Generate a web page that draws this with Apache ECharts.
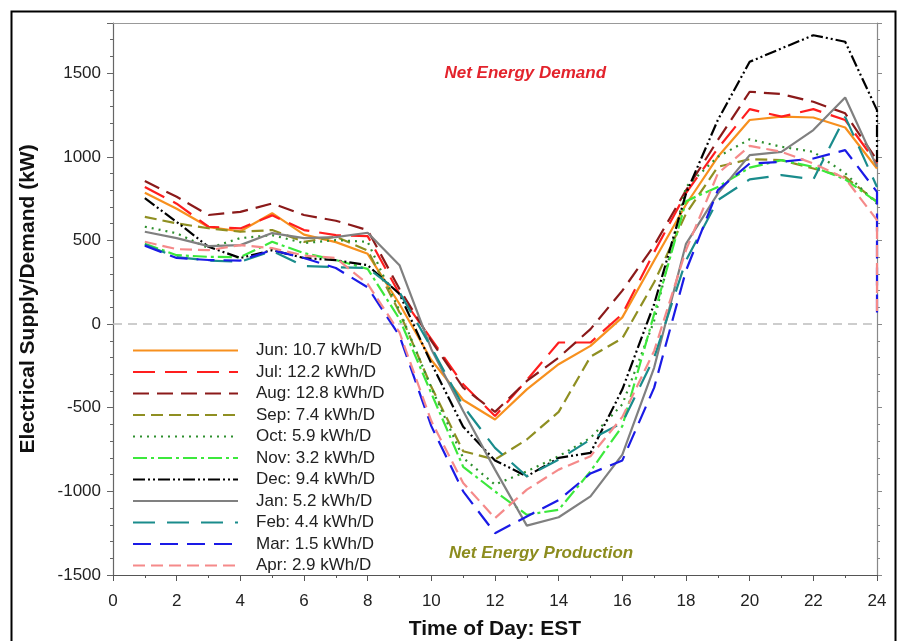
<!DOCTYPE html>
<html><head><meta charset="utf-8">
<script src="https://cdn.jsdelivr.net/npm/echarts@6/dist/echarts.min.js"></script>
<style>html,body{margin:0;padding:0;background:#fff}#c{width:902px;height:641px}</style>
</head><body><div id="c"></div>
<script>
const hours = [1,2,3,4,5,6,7,8,9,10,11,12,13,14,15,16,17,18,19,20,21,22,23,24];
const seriesNames = ['Jun: 10.7 kWh/D','Jul: 12.2 kWh/D','Aug: 12.8 kWh/D','Sep: 7.4 kWh/D','Oct: 5.9 kWh/D','Nov: 3.2 kWh/D','Dec: 9.4 kWh/D','Jan: 5.2 kWh/D','Feb: 4.4 kWh/D','Mar: 1.5 kWh/D','Apr: 2.9 kWh/D'];
const jun = [785,690,580,555,663,535,490,420,120,-215,-454,-570,-390,-240,-130,40,380,715,1000,1220,1240,1235,1175,930];
const jul = [820,720,582,572,650,562,532,526,180,-90,-360,-550,-335,-110,-110,60,430,783,1050,1285,1240,1285,1220,960];
const aug = [855,761,652,671,721,652,618,562,210,-100,-380,-525,-340,-200,-30,200,470,800,1100,1389,1375,1329,1260,980];
const sep = [641,602,573,552,562,492,522,440,70,-375,-760,-810,-690,-525,-195,-85,250,660,940,986,980,930,880,731];
const oct = [582,543,454,514,532,484,502,492,80,-380,-800,-960,-880,-790,-680,-480,20,820,1000,1105,1060,1030,902,720];
const nov = [480,412,402,400,492,424,383,330,30,-414,-853,-1000,-1140,-1110,-880,-610,60,735,820,935,980,940,865,730];
const dec = [753,611,462,395,442,395,382,352,180,-235,-614,-815,-910,-800,-770,-390,120,780,1220,1568,1648,1727,1688,1279];
const jan = [552,514,466,472,544,514,520,546,352,-150,-520,-870,-1205,-1155,-1030,-780,-260,480,780,1010,1030,1160,1355,940];
const feb = [475,400,380,372,438,347,340,335,190,-140,-490,-740,-910,-810,-690,-590,-200,380,741,865,891,865,1239,820];
const mar = [468,395,383,380,442,395,335,220,-70,-610,-1000,-1250,-1150,-1052,-893,-815,-380,320,801,960,970,990,1040,790];
const apr = [492,448,442,472,454,410,395,240,-50,-580,-950,-1160,-990,-870,-790,-555,-160,442,900,1065,1030,960,871,622];
// extra readings drawn at the end hour (vertical drop at hour 24)
const endHour = 24;
const decTail = [960];
const marTail = [50];
const aprTail = [60];
const yTicks = {min: -1500, max: 1800, step: 500};
const xTicks = {min: 0, max: 24, step: 2};
const noteTexts = ['Net Energy Demand', 'Net Energy Production'];
const noteHours = [12.95, 13.45];
const noteValues = [1500, -1370];

const allValues = [jun, jul, aug, sep, oct, nov, dec, jan, feb, mar, apr];
const tails = [[], [], [], [], [], [], decTail, [], [], marTail, aprTail];
const colors = ['#F7901E','#FF1E1E','#8B1A1A','#8F8F22','#2E8F2E','#3CE83C','#000000','#808080','#1A8C8C','#1A1AE6','#F58A8A'];
const dashes = ['solid',[22,10],[16,8],[12,6],[2,5],[14,4,3,4],[12,3,2,3,2,3],'solid',[22,12],[18,9],[12,6]];
const noteColors = ['#E3232C', '#8C8C1E'];

const FONT = '"Liberation Sans", Arial, sans-serif';

const series = allValues.map((vals, i) => {
  const data = hours.map((h, k) => [h, vals[k]]);
  tails[i].forEach(v => data.push([endHour, v]));
  const s = {
    name: seriesNames[i],
    type: 'line',
    data: data,
    symbol: 'none',
    smooth: false,
    z: 3,
    lineStyle: {color: colors[i], width: 2.2, type: dashes[i]},
    itemStyle: {color: colors[i]},
    emphasis: {disabled: true}
  };
  if (i === 0) {
    s.markLine = {
      silent: true, symbol: 'none', label: {show: false},
      lineStyle: {color: '#BDBDBD', type: [9, 6], width: 1.5},
      data: [{yAxis: 0}], z: 1
    };
  }
  return s;
});

const chart = echarts.init(document.getElementById('c'), null, {renderer: 'canvas'});
chart.setOption({
  animation: false,
  backgroundColor: '#fff',
  grid: {left: 113, right: 25, top: 23, bottom: 66, outerBoundsMode: 'none', containLabel: false},
  xAxis: [{
    type: 'value', min: xTicks.min, max: xTicks.max, interval: xTicks.step,
    position: 'bottom',
    name: 'Time of Day: EST', nameLocation: 'middle', nameGap: 44,
    nameTextStyle: {fontFamily: FONT, fontSize: 21, fontWeight: 'bold', color: '#111'},
    axisLine: {show: true, onZero: false, lineStyle: {color: '#555', width: 1.2}},
    axisTick: {show: true, inside: false, length: 6, lineStyle: {color: '#555'}},
    minorTick: {show: true, splitNumber: 2, length: 3, lineStyle: {color: '#555'}},
    axisLabel: {fontFamily: FONT, fontSize: 17, color: '#222', margin: 18, formatter: v => String(v)},
    splitLine: {show: false}
  }, {
    type: 'value', min: xTicks.min, max: xTicks.max, interval: xTicks.step,
    position: 'top',
    axisLine: {show: true, onZero: false, lineStyle: {color: '#999', width: 1.2}},
    axisTick: {show: false}, axisLabel: {show: false}, splitLine: {show: false}
  }],
  yAxis: [{
    type: 'value', min: yTicks.min, max: yTicks.max, interval: yTicks.step,
    position: 'left',
    name: 'Electrical Supply/Demand (kW)', nameLocation: 'middle', nameGap: 74,
    nameTextStyle: {fontFamily: FONT, fontSize: 21, fontWeight: 'bold', color: '#111'},
    axisLine: {show: true, onZero: false, lineStyle: {color: '#666', width: 1.2}},
    axisTick: {show: true, inside: false, length: 6, lineStyle: {color: '#666'}},
    minorTick: {show: true, splitNumber: 5, length: 3, lineStyle: {color: '#666'}},
    axisLabel: {fontFamily: FONT, fontSize: 17, color: '#222', margin: 12, showMaxLabel: false,
                formatter: v => String(v)},
    splitLine: {show: false}
  }, {
    type: 'value', min: yTicks.min, max: yTicks.max, interval: yTicks.step,
    position: 'right',
    axisLine: {show: true, onZero: false, lineStyle: {color: '#888', width: 1.2}},
    axisTick: {show: true, inside: false, length: 5, lineStyle: {color: '#888'}},
    minorTick: {show: true, splitNumber: 5, length: 3, lineStyle: {color: '#888'}},
    axisLabel: {show: false}, splitLine: {show: false}
  }],
  legend: {
    orient: 'vertical', left: 127, top: 337,
    itemWidth: 105, itemHeight: 14, itemGap: 4.5,
    data: seriesNames,
    selectedMode: false,
    itemStyle: {opacity: 0, borderWidth: 0},
    textStyle: {fontFamily: FONT, fontSize: 17, color: '#222', padding: [0, 0, 0, 13]}
  },
  series: series
});

const noteGraphics = noteTexts.map((t, j) => {
  const p = chart.convertToPixel({gridIndex: 0}, [noteHours[j], noteValues[j]]);
  return {
    type: 'text', x: p[0], y: p[1], silent: true, z: 10,
    style: {text: t, fill: noteColors[j], fontFamily: FONT, fontSize: 17, fontWeight: 'bold',
            fontStyle: 'italic', textAlign: 'center', textVerticalAlign: 'middle'}
  };
});
chart.setOption({graphic: [
  {type: 'rect', left: 9, top: 9, silent: true,
   shape: {width: 884, height: 660}, style: {fill: 'none', stroke: '#000', lineWidth: 2}}
].concat(noteGraphics)});
</script>
</body></html>
